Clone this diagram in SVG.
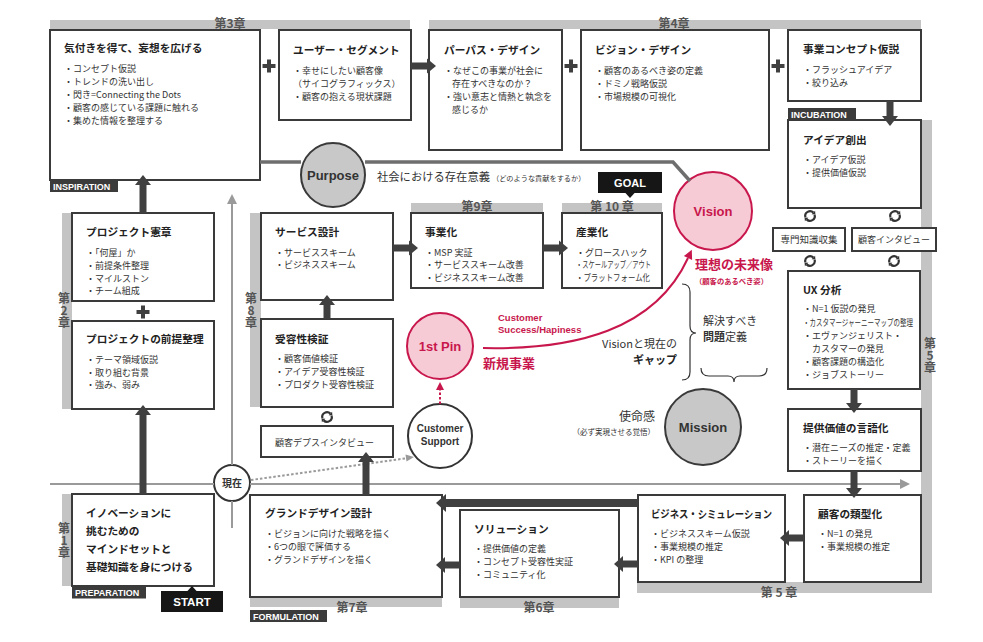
<svg xmlns="http://www.w3.org/2000/svg" width="983" height="642" viewBox="0 0 983 642">
<defs>
<style>
.box{fill:#fff;stroke:#3a3a3a;stroke-width:2}
.bar{fill:#c4c4c4}
.tag{fill:#3b3b3b}
.blk{fill:#161616}
.tg{font-family:"Liberation Sans",Arial,sans-serif;font-weight:700;font-size:9px;fill:#fff}
.t{font-family:"Noto Sans CJK JP",sans-serif;font-weight:700;font-size:10.7px;fill:#222}
.i{font-family:"Noto Sans CJK JP",sans-serif;font-size:9px;fill:#333}
.ch{font-family:"Noto Sans CJK JP",sans-serif;font-weight:700;font-size:12px;fill:#555;text-anchor:middle}
.vch{font-family:"Noto Sans CJK JP",sans-serif;font-weight:700;font-size:12px;fill:#555;writing-mode:vertical-rl;text-orientation:upright}
.arr{fill:#404040}
.en{font-family:"Liberation Sans",Arial,sans-serif;font-weight:700;text-anchor:middle}
.jp{font-family:"Noto Sans CJK JP",sans-serif}
.tl{stroke:#9a9a9a;stroke-width:2;fill:none}
.pl{stroke:#6e6e6e;stroke-width:3.5;fill:none}
.pk{fill:#c8174c}
</style>
<g id="cyc">
<path d="M-4.6,1.3 A4.8,4.8 0 0 1 3.4,-3.4 M4.6,-1.3 A4.8,4.8 0 0 1 -3.4,3.4" fill="none" stroke="#333" stroke-width="2.2"/>
<polygon points="5.4,-1.4 5.1,-5.3 1.6,-1.8" fill="#333"/>
<polygon points="-5.4,1.4 -5.1,5.3 -1.6,1.8" fill="#333"/>
</g>
</defs>
<rect width="983" height="642" fill="#fff"/>

<g id="bars">
<rect class="bar" x="50" y="20" width="360" height="9"/>
<rect class="bar" x="429" y="20" width="492" height="9"/>
<rect class="bar" x="921" y="120" width="11" height="473"/>
<rect class="bar" x="637" y="582" width="295" height="11"/>
<rect class="bar" x="460" y="597" width="159" height="11"/>
<rect class="bar" x="250" y="597" width="192" height="10"/>
<rect class="bar" x="62" y="494" width="10" height="92"/>
<rect class="bar" x="62" y="213" width="10" height="196"/>
<rect class="bar" x="250" y="213" width="11" height="194"/>
<rect class="bar" x="411" y="203" width="132" height="10"/>
<rect class="bar" x="562" y="203" width="100" height="10"/>
<text class="ch" x="230" y="27.6">第3章</text>
<text class="ch" x="674" y="27.6">第4章</text>
<text class="ch" x="477" y="210.5">第9章</text>
<text class="ch" x="612" y="210.5">第 10 章</text>
<text class="ch" x="779" y="596.5">第 5 章</text>
<text class="ch" x="539" y="612">第6章</text>
<text class="ch" x="352" y="612">第7章</text>
<text class="vch" x="64" y="292">第2章</text>
<text class="vch" x="251" y="292">第8章</text>
<text class="vch" x="64" y="522">第1章</text>
<text class="vch" x="930" y="337">第5章</text>
</g>

<g id="n-inspiration">
<rect class="box" x="50" y="30" width="210" height="150"/>
<text class="t" x="64" y="52">気付きを得て、妄想を広げる</text>
<text class="i" x="64" y="71.5">・コンセプト仮説</text>
<text class="i" x="64" y="85">・トレンドの洗い出し</text>
<text class="i" x="64" y="97.5">・閃き=Connecting the Dots</text>
<text class="i" x="64" y="110.5">・顧客の感じている課題に触れる</text>
<text class="i" x="64" y="123.5">・集めた情報を整理する</text>
<rect class="tag" x="50" y="180" width="68" height="12"/>
<text class="tg" x="53" y="189.5">INSPIRATION</text>
</g>

<g id="n-user">
<rect class="box" x="279" y="30" width="132" height="90"/>
<text class="t" x="293" y="54">ユーザー・セグメント</text>
<text class="i" x="293" y="74">・幸せにしたい顧客像</text>
<text class="i" x="293" y="87">（サイコグラフィックス）</text>
<text class="i" x="293" y="100">・顧客の抱える現状課題</text>
</g>

<g id="n-purpose-design">
<rect class="box" x="429" y="30" width="133" height="120"/>
<text class="t" x="444" y="54">パーパス・デザイン</text>
<text class="i" x="444" y="74">・なぜこの事業が社会に</text>
<text class="i" x="452" y="87">存在すべきなのか？</text>
<text class="i" x="444" y="100">・強い意志と情熱と執念を</text>
<text class="i" x="452" y="113">感じるか</text>
</g>

<g id="n-vision-design">
<rect class="box" x="581" y="30" width="188" height="120"/>
<text class="t" x="595" y="54">ビジョン・デザイン</text>
<text class="i" x="595" y="74">・顧客のあるべき姿の定義</text>
<text class="i" x="595" y="87">・ドミノ戦略仮説</text>
<text class="i" x="595" y="100">・市場規模の可視化</text>
</g>

<g id="n-concept">
<rect class="box" x="788" y="30" width="133" height="71"/>
<text class="t" x="803" y="53">事業コンセプト仮説</text>
<text class="i" x="803" y="72.5">・フラッシュアイデア</text>
<text class="i" x="803" y="85.5">・絞り込み</text>
</g>

<g id="n-idea">
<rect class="box" x="788" y="120" width="133" height="88"/>
<text class="t" x="803" y="144">アイデア創出</text>
<text class="i" x="803" y="162.5">・アイデア仮説</text>
<text class="i" x="803" y="175.5">・提供価値仮説</text>
<rect class="tag" x="788" y="108" width="68" height="12"/>
<text class="tg" x="791" y="117.5">INCUBATION</text>
</g>

<g id="n-expert">
<rect class="box" x="773" y="228" width="72" height="23"/>
<text class="jp" x="809" y="243.2" font-size="9.5" fill="#333" text-anchor="middle">専門知識収集</text>
</g>
<g id="n-interview">
<rect class="box" x="852" y="228" width="84" height="23"/>
<text class="jp" x="894" y="243" font-size="9" fill="#333" text-anchor="middle">顧客インタビュー</text>
</g>

<g id="n-ux">
<rect class="box" x="788" y="271" width="132" height="118"/>
<text class="t" x="803" y="294">UX 分析</text>
<text class="i" x="803" y="311.5">・N=1 仮説の発見</text>
<text class="i" x="803" y="325.5" font-size="8.5" textLength="110" lengthAdjust="spacingAndGlyphs">・カスタマージャーニーマップの整理</text>
<text class="i" x="803" y="338.5">・エヴァンジェリスト・</text>
<text class="i" x="812" y="351.5">カスタマーの発見</text>
<text class="i" x="803" y="364.5">・顧客課題の構造化</text>
<text class="i" x="803" y="377.5">・ジョブストーリー</text>
</g>

<g id="n-value">
<rect class="box" x="788" y="409" width="133" height="62"/>
<text class="t" x="803" y="432">提供価値の言語化</text>
<text class="i" x="803" y="451">・潜在ニーズの推定・定義</text>
<text class="i" x="803" y="464">・ストーリーを描く</text>
</g>

<g id="n-type">
<rect class="box" x="804" y="495" width="117" height="87"/>
<text class="t" x="818" y="517.5">顧客の類型化</text>
<text class="i" x="818" y="537">・N=1 の発見</text>
<text class="i" x="818" y="550">・事業規模の推定</text>
</g>

<g id="n-bizsim">
<rect class="box" x="638" y="495" width="147" height="87"/>
<text class="t" x="651" y="517.5" textLength="121" lengthAdjust="spacingAndGlyphs">ビジネス・シミュレーション</text>
<text class="i" x="651" y="537">・ビジネススキーム仮説</text>
<text class="i" x="651" y="550">・事業規模の推定</text>
<text class="i" x="651" y="562.5">・KPI の整理</text>
</g>

<g id="n-solution">
<rect class="box" x="460" y="510" width="159" height="87"/>
<text class="t" x="474" y="532.5">ソリューション</text>
<text class="i" x="474" y="552">・提供価値の定義</text>
<text class="i" x="474" y="565">・コンセプト受容性実証</text>
<text class="i" x="474" y="577.5">・コミュニティ化</text>
</g>

<g id="n-grand">
<rect class="box" x="250" y="495" width="192" height="102"/>
<text class="t" x="265" y="517">グランドデザイン設計</text>
<text class="i" x="265" y="536.5">・ビジョンに向けた戦略を描く</text>
<text class="i" x="265" y="549.5">・6つの眼で評価する</text>
<text class="i" x="265" y="562.5">・グランドデザインを描く</text>
<rect class="tag" x="250" y="610" width="77" height="12"/>
<text class="tg" x="253" y="619.5">FORMULATION</text>
</g>

<g id="n-innovation">
<rect class="box" x="72" y="494" width="142" height="92"/>
<text class="t" x="86" y="517" font-size="11">イノベーションに</text>
<text class="t" x="86" y="535" font-size="11">挑むための</text>
<text class="t" x="86" y="553" font-size="11">マインドセットと</text>
<text class="t" x="86" y="571" font-size="11">基礎知識を身につける</text>
<rect class="tag" x="72" y="587" width="74" height="11.5"/>
<text class="tg" x="75" y="596">PREPARATION</text>
</g>

<g id="n-start">
<rect class="blk" x="161" y="591" width="62" height="21"/>
<polygon class="blk" points="187,591.5 197,591.5 192,586"/>
<text class="en" x="192" y="605.5" font-size="11.5" fill="#fff">START</text>
</g>

<g id="n-charter">
<rect class="box" x="72" y="213" width="142" height="88"/>
<text class="t" x="86" y="236">プロジェクト憲章</text>
<text class="i" x="86" y="255.5">・「何屋」か</text>
<text class="i" x="86" y="268.5">・前提条件整理</text>
<text class="i" x="86" y="281.5">・マイルストン</text>
<text class="i" x="86" y="293.5">・チーム組成</text>
</g>

<g id="n-premise">
<rect class="box" x="72" y="321" width="142" height="88"/>
<text class="t" x="86" y="343">プロジェクトの前提整理</text>
<text class="i" x="86" y="362.5">・テーマ領域仮説</text>
<text class="i" x="86" y="375.5">・取り組む背景</text>
<text class="i" x="86" y="387.5">・強み、弱み</text>
</g>

<g id="n-service">
<rect class="box" x="261" y="213" width="132" height="87"/>
<text class="t" x="275" y="236">サービス設計</text>
<text class="i" x="275" y="255.5">・サービススキーム</text>
<text class="i" x="275" y="267.5">・ビジネススキーム</text>
</g>

<g id="n-business">
<rect class="box" x="411" y="213" width="132" height="75"/>
<text class="t" x="425" y="236">事業化</text>
<text class="i" x="425" y="255.5">・MSP 実証</text>
<text class="i" x="425" y="268">・サービススキーム改善</text>
<text class="i" x="425" y="280.5">・ビジネススキーム改善</text>
</g>

<g id="n-industry">
<rect class="box" x="562" y="213" width="100" height="75"/>
<text class="t" x="576" y="236">産業化</text>
<text class="i" x="576" y="255.5">・グロースハック</text>
<text class="i" x="576" y="268" textLength="75" lengthAdjust="spacingAndGlyphs">・スケールアップ／アウト</text>
<text class="i" x="576" y="280.5" textLength="74" lengthAdjust="spacingAndGlyphs">・プラットフォーム化</text>
</g>

<g id="n-goal">
<rect class="blk" x="598" y="172" width="64" height="21"/>
<polygon class="blk" points="625,192.5 635,192.5 630,198"/>
<text class="en" x="630" y="186.5" font-size="11" fill="#fff">GOAL</text>
</g>

<g id="n-accept">
<rect class="box" x="261" y="319" width="132" height="88"/>
<text class="t" x="275" y="343">受容性検証</text>
<text class="i" x="275" y="361.5">・顧客価値検証</text>
<text class="i" x="275" y="374.5">・アイデア受容性検証</text>
<text class="i" x="275" y="387.5">・プロダクト受容性検証</text>
</g>

<g id="n-depth">
<rect class="box" x="261" y="426" width="132" height="31"/>
<text class="i" x="275" y="445.5">顧客デプスインタビュー</text>
</g>

<g id="n-purpose">
<circle cx="333" cy="175" r="32" fill="#c8c8c8" stroke="#3a3a3a" stroke-width="2"/>
<text class="en" x="333" y="179.5" font-size="13" fill="#333">Purpose</text>
<text class="jp" x="377" y="181" font-size="11.3" fill="#333">社会における存在意義<tspan font-size="7.2" dx="2">（どのような貢献をするか）</tspan></text>
</g>

<g id="n-vision">
<circle cx="713" cy="211" r="39" fill="#f7cbd6" stroke="#c8174c" stroke-width="2"/>
<text class="en" x="713" y="215.5" font-size="13" fill="#c8174c">Vision</text>
<text class="jp pk" x="695" y="269" font-size="13" font-weight="700">理想の未来像</text>
<text class="jp pk" x="695" y="284" font-size="7.3" font-weight="700">（顧客のあるべき姿）</text>
</g>

<g id="n-firstpin">
<circle cx="440" cy="346" r="33" fill="#f7cbd6" stroke="#c8174c" stroke-width="2"/>
<text class="en" x="440" y="350.5" font-size="13" fill="#c8174c">1st Pin</text>
<text class="jp pk" x="483" y="368" font-size="13" font-weight="700">新規事業</text>
</g>

<g id="n-support">
<circle cx="440" cy="436" r="32" fill="#fff" stroke="#333" stroke-width="2"/>
<text class="en" x="440" y="432" font-size="10" fill="#333">Customer</text>
<text class="en" x="440" y="445" font-size="10" fill="#333">Support</text>
</g>

<g id="n-mission">
<circle cx="703" cy="427" r="38" fill="#c8c8c8" stroke="#3a3a3a" stroke-width="2"/>
<text class="en" x="703" y="431.5" font-size="13" fill="#333">Mission</text>
<text class="jp" x="655" y="420.5" font-size="12" fill="#333" text-anchor="end">使命感</text>
<text class="jp" x="655" y="434.5" font-size="7.5" fill="#333" text-anchor="end">（必ず実現させる覚悟）</text>
</g>

<g id="n-now">
<circle cx="232" cy="483" r="18" fill="#fff" stroke="#333" stroke-width="2"/>
<text class="jp" x="232" y="487" font-size="10" font-weight="700" fill="#333" text-anchor="middle">現在</text>
</g>

<g id="n-gap">
<text class="jp" x="677" y="348" font-size="11" fill="#333" text-anchor="end">Visionと現在の</text>
<text class="jp" x="677" y="364" font-size="11" font-weight="700" fill="#222" text-anchor="end">ギャップ</text>
<text class="jp" x="703" y="324.5" font-size="11" fill="#333">解決すべき</text>
<text class="jp" x="703" y="340.5" font-size="11" fill="#333"><tspan font-weight="700">問題</tspan>定義</text>
</g>

<g id="connectors">
<polyline class="pl" points="260,162 301,162"/>
<polyline class="pl" points="365,162 673,162 690,181"/>
<line class="tl" x1="50" y1="484" x2="214" y2="484"/>
<line class="tl" x1="250" y1="484" x2="901" y2="484"/>
<polygon points="900,479 900,489 910,484" fill="#9a9a9a"/>
<line class="tl" x1="232" y1="528" x2="232" y2="501"/>
<line class="tl" x1="232" y1="465" x2="232" y2="203"/>
<polygon points="227,204 237,204 232,194" fill="#9a9a9a"/>
<line x1="251" y1="480" x2="407" y2="458.2" stroke="#9a9a9a" stroke-width="2" stroke-dasharray="2.5 2"/>
<polygon points="414,457 406.5,461.6 405.5,454.6" fill="#9a9a9a"/>
<line x1="440" y1="404" x2="440" y2="389" stroke="#c8174c" stroke-width="2" stroke-dasharray="2.5 2"/>
<polygon class="pk" points="436,390 444,390 440,382"/>
<path d="M483,348 C575,350 655,330 688,258" fill="none" stroke="#c8174c" stroke-width="2"/>
<polygon class="pk" points="692.1,259.9 683.9,256.1 691.8,249.8"/>
<text class="en pk" x="498" y="320.5" font-size="9.5" style="text-anchor:start">Customer</text>
<text class="en pk" x="498" y="332.5" font-size="9.5" style="text-anchor:start">Success/Hapiness</text>
<path d="M682,284 Q690,284 690,292 L690,326 Q690,333 696,333 Q690,333 690,340 L690,372 Q690,380 682,380" fill="none" stroke="#333" stroke-width="1.2"/>
<path d="M701,368 Q701,376 709,376 L728,376 Q734,376 734,382 Q734,376 740,376 L759,376 Q767,376 767,368" fill="none" stroke="#333" stroke-width="1.2"/>
<g class="arr">
<rect x="411" y="62.5" width="17" height="7"/><polygon points="427,58.5 427,73.5 436,66"/>
<rect x="886.5" y="101" width="7" height="16"/><polygon points="882,116 898,116 890,126"/>
<rect x="393" y="244.5" width="17" height="7"/><polygon points="409,240.5 409,255.5 418,248"/>
<rect x="543" y="244.5" width="17" height="7"/><polygon points="559,240.5 559,255.5 568,248"/>
<rect x="323.5" y="304" width="7" height="15"/><polygon points="319,305 335,305 327,295"/>
<rect x="362.5" y="461" width="7" height="34"/><polygon points="358,462 374,462 366,452"/>
<rect x="139.5" y="184" width="7" height="29"/><polygon points="135,185 151,185 143,175"/>
<rect x="139.5" y="414" width="7" height="80"/><polygon points="135,415 151,415 143,405"/>
<rect x="850.5" y="389" width="7" height="15"/><polygon points="846,403 862,403 854,413"/>
<rect x="850.5" y="471" width="7" height="18"/><polygon points="846,488 862,488 854,498"/>
<rect x="788" y="534.5" width="16" height="7"/><polygon points="789,530 789,546 780,538"/>
<rect x="622" y="560.5" width="16" height="7"/><polygon points="623,556 623,572 614,564"/>
<rect x="444" y="561.5" width="16" height="7"/><polygon points="445,557 445,573 436,565"/>
<rect x="445" y="499" width="193" height="8"/><polygon points="446,494 446,512 436,503"/>
</g>
<g class="arr">
<rect x="262.5" y="64" width="13" height="4"/><rect x="267" y="59.5" width="4" height="13"/>
<rect x="564.5" y="64" width="13" height="4"/><rect x="569" y="59.5" width="4" height="13"/>
<rect x="771.5" y="64" width="13" height="4"/><rect x="776" y="59.5" width="4" height="13"/>
<rect x="136.5" y="310" width="13" height="4"/><rect x="141" y="305.5" width="4" height="13"/>
</g>
<use href="#cyc" x="810" y="216"/>
<use href="#cyc" x="895" y="216"/>
<use href="#cyc" x="810" y="261"/>
<use href="#cyc" x="894" y="261"/>
<use href="#cyc" x="327" y="417"/>
</g>
</svg>
